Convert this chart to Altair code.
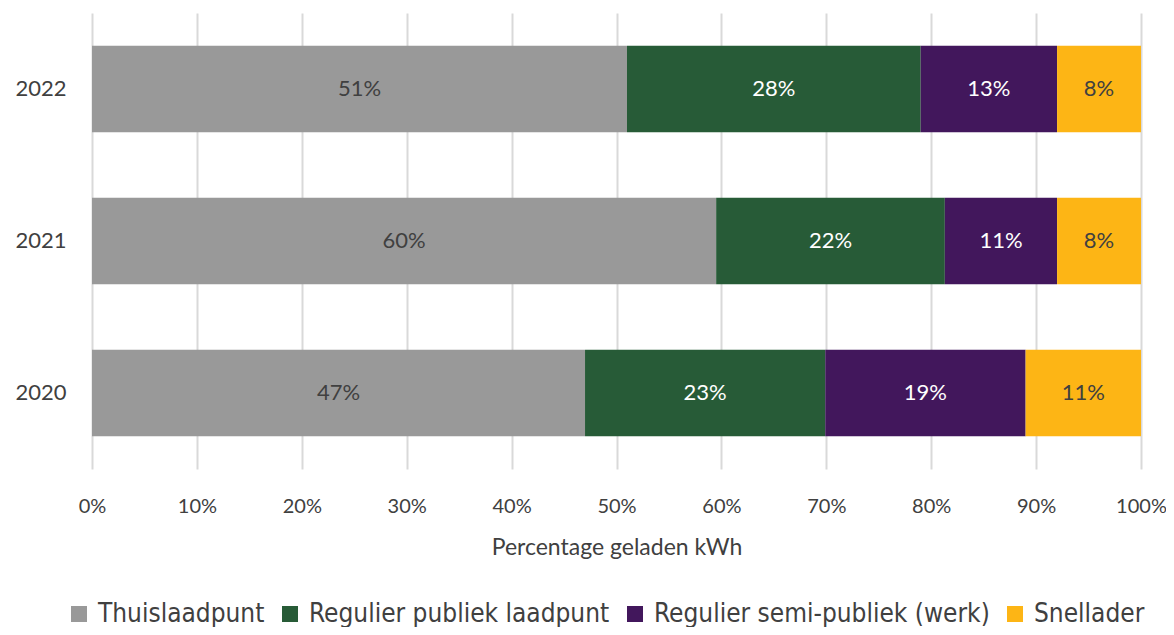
import altair as alt
import pandas as pd

years = ["2022", "2021", "2020"]
categories = ["Thuislaadpunt", "Regulier publiek laadpunt", "Regulier semi-publiek (werk)", "Snellader"]
colors = ["#999999", "#275B37", "#42175C", "#FDB515"]
text_colors = ["#404040", "#FFFFFF", "#FFFFFF", "#404040"]
values_2022 = [51.0, 28.0, 13.0, 8.0]
values_2021 = [59.5, 21.8, 10.7, 8.0]
values_2020 = [47.0, 22.9, 19.1, 11.0]

rows = []
for y, vals in zip(years, [values_2022, values_2021, values_2020]):
    for i, (c, v) in enumerate(zip(categories, vals)):
        rows.append({"year": y, "cat": c, "value": v, "order": i, "tcolor": text_colors[i]})
df = pd.DataFrame(rows)

FONT = "Lato"

base = alt.Chart(df).transform_stack(
    stack="value", groupby=["year"], sort=[alt.SortField("order", "ascending")], as_=["x0", "x1"]
).transform_calculate(
    mid="(datum.x0 + datum.x1) / 2",
    lbl="format(datum.value, '.0f') + '%'",
)

yenc = alt.Y("year:N", sort=years, title=None,
             scale=alt.Scale(paddingInner=0.43, paddingOuter=0.215),
             axis=alt.Axis(labelFont=FONT, labelFontSize=22, labelColor="#404040",
                           labelPadding=26, ticks=False, domain=False, grid=False))

bars = base.mark_bar().encode(
    x=alt.X("x0:Q", scale=alt.Scale(domain=[0, 100], nice=False),
            title="Percentage geladen kWh",
            axis=alt.Axis(values=list(range(0, 101, 10)), labelExpr="datum.value + '%'",
                          labelFont=FONT, labelFontSize=20, labelColor="#404040",
                          labelPadding=27, ticks=False, domain=False,
                          labelFlush=False, labelOverlap=False,
                          grid=True, gridColor="#D9D9D9", gridWidth=2,
                          titleFont=FONT, titleFontSize=23, titleFontWeight="normal",
                          titleColor="#404040", titlePadding=20)),
    x2="x1:Q",
    y=yenc,
    color=alt.Color("cat:N", sort=categories,
                    scale=alt.Scale(domain=categories, range=colors),
                    legend=alt.Legend(orient="none", direction="horizontal", title=None,
                                      legendX=-26, legendY=588,
                                      symbolType="square", symbolSize=256, symbolStrokeWidth=0,
                                      labelFont="DejaVu Sans Condensed", labelFontSize=26,
                                      labelLimit=0,
                                      labelColor="#404040", columnPadding=12, symbolOffset=0,
                                      labelOffset=6)),
)

labels = base.mark_text(font=FONT, fontSize=22).encode(
    x="mid:Q",
    y=alt.Y("year:N", sort=years),
    text="lbl:N",
    color=alt.Color("tcolor:N", scale=None),
)

chart = (bars + labels).properties(
    width=1049, height=456,
    autosize=alt.AutoSizeParams(type="none"),
    padding={"left": 84, "top": 5, "right": 25, "bottom": 158},
).configure(background="white").configure_view(stroke=None)

chart.save("out.html", embed_options={"renderer": "svg", "actions": False})
